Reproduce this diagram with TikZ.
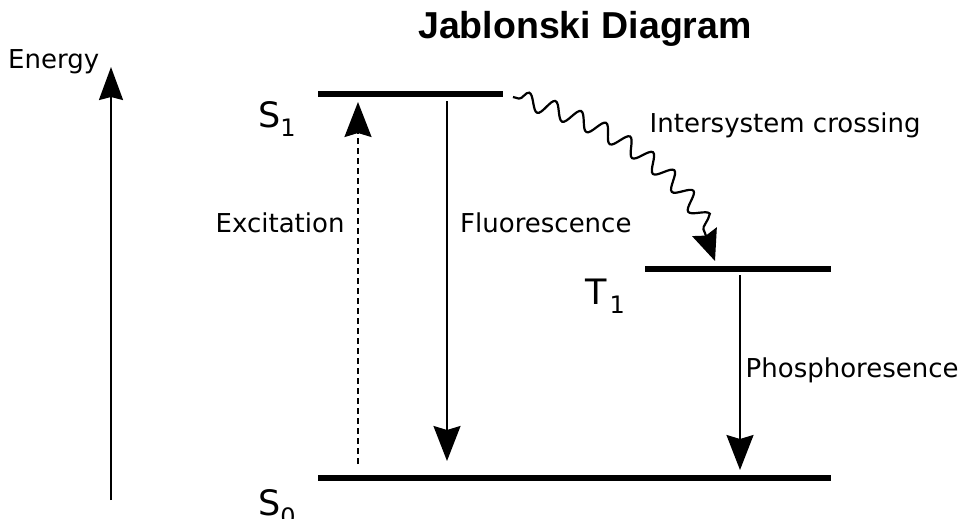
\documentclass[tikz,border=0pt]{standalone}
\usepackage{fontspec}
\setmainfont{DejaVu Sans}
\newfontfamily\titlefont{Liberation Sans}
\usetikzlibrary{arrows.meta,decorations.pathmorphing}
\begin{document}
\begin{tikzpicture}[x=1pt,y=-1pt,
  level/.style={line width=5.5pt},
  trans/.style={line width=2pt,-{Stealth[length=35pt,width=27pt,inset=4pt]}},
  lbl/.style={anchor=base west,inner sep=0pt,font=\fontsize{26}{26}\selectfont},
  statelbl/.style={anchor=base west,inner sep=0pt,font=\fontsize{35}{35}\selectfont}]
\useasboundingbox (0,0) rectangle (961,519);
% title
\node[anchor=base,inner sep=0pt,font=\titlefont\bfseries\fontsize{37.5}{37.5}\selectfont] (title) at (585,39) {Jablonski Diagram};
% energy axis
\coordinate (E0) at (111,500);
\coordinate (E1) at (111,67);
\draw[line width=2pt,-{Stealth[length=33pt,width=24pt,inset=3pt]}] (E0) -- (E1);
\node[lbl] (energy) at (8,69) {Energy};
% levels
\coordinate (S1a) at (318,94);  \coordinate (S1b) at (503,94);
\coordinate (T1a) at (645,269); \coordinate (T1b) at (831,269);
\coordinate (S0a) at (318,478); \coordinate (S0b) at (831,478);
\draw[level] (S1a) -- (S1b);
\draw[level] (T1a) -- (T1b);
\draw[level] (S0a) -- (S0b);
\node[statelbl] (s1) at (258,127) {S\raisebox{-9pt}{\fontsize{24}{24}\selectfont 1}};
\node[statelbl] (t1) at (585,304) {T\hspace{3pt}\raisebox{-9pt}{\fontsize{24}{24}\selectfont 1}};
\node[statelbl] (s0) at (258,515) {S\raisebox{-10pt}{\fontsize{24}{24}\selectfont 0}};
% transitions
\coordinate (ex0) at (358,464); \coordinate (ex1) at (358,102);
\coordinate (fl0) at (447,101); \coordinate (fl1) at (447,461);
\coordinate (ph0) at (740,275); \coordinate (ph1) at (740,470);
\coordinate (isc0) at (513,97); \coordinate (isc1) at (715,261);
\draw[trans,dash pattern=on 6pt off 4pt] (ex0) -- (ex1);
\draw[trans] (fl0) -- (fl1);
\draw[trans] (ph0) -- (ph1);
\draw[line width=2.2pt,decorate,decoration={snake,amplitude=8.5pt,segment length=27pt,pre length=6pt,post length=30pt},-{Stealth[length=31pt,width=26pt,inset=4pt]}]
  (isc0) .. controls (585,116) and (690,165) .. (isc1);
% labels
\node[lbl] (exc) at (215.5,232) {Excitation};
\node[lbl] (flu) at (460,232) {Fluorescence};
\node[lbl] (isc) at (649.5,132) {Intersystem crossing};
\node[lbl] (pho) at (745.5,377) {Phosphoresence};
\end{tikzpicture}
\end{document}
